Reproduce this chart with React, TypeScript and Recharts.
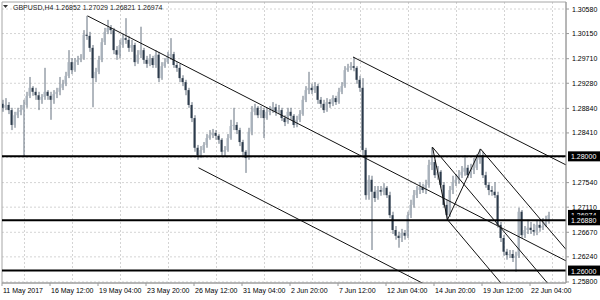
import React from "react";
import {
  ComposedChart,
  Bar,
  XAxis,
  YAxis,
  CartesianGrid,
  ReferenceLine,
  ReferenceArea,
} from "recharts";

const FONT = "'Liberation Sans', Arial, sans-serif";

const symbol = "GBPUSD,H4";
const lastOhlc = ["1.26852", "1.27029", "1.26821", "1.26974"];

// H4 bars, 11 May 2017 20:00 .. 23 Jun 2017
const timeLabels = [
  "11 May 2017", "16 May 12:00", "19 May 04:00", "23 May 20:00",
  "26 May 12:00", "31 May 04:00", "2 Jun 20:00", "7 Jun 12:00",
  "12 Jun 04:00", "14 Jun 20:00", "19 Jun 12:00", "22 Jun 04:00",
];
const labelBars = [0, 16, 32, 48, 64, 80, 96, 112, 128, 144, 160, 176];
const gridBars = [7, 23, 39, 55, 71, 87, 103, 119, 135, 151, 167, 183];

const firstOpen = 1.2892;
const closes = [
  1.2885, 1.2890, 1.2881, 1.2855, 1.2872, 1.2878, 1.2881, 1.2890, 1.2906, 1.2920,
  1.2913, 1.2907, 1.2899, 1.2904, 1.2913, 1.2906, 1.2899, 1.2909, 1.2913, 1.2920,
  1.2927, 1.2941, 1.2965, 1.2951, 1.2965, 1.2969, 1.2972, 1.3013, 1.3011, 1.2990,
  1.2937, 1.2948, 1.2969, 1.3000, 1.3018, 1.3025, 1.3021, 1.2986, 1.2978, 1.2995,
  1.3007, 1.3004, 1.2990, 1.2995, 1.2965, 1.2978, 1.2986, 1.2969, 1.2962, 1.2972,
  1.2960, 1.2978, 1.2937, 1.2958, 1.2965, 1.2976, 1.2979, 1.2960, 1.2955, 1.2937,
  1.2930, 1.2916, 1.2890, 1.2867, 1.2815, 1.2802, 1.2811, 1.2820, 1.2832, 1.2837,
  1.2841, 1.2836, 1.2829, 1.2808, 1.2811, 1.2832, 1.2853, 1.2855, 1.2846, 1.2825,
  1.2808, 1.2797, 1.2843, 1.2878, 1.2885, 1.2872, 1.2881, 1.2867, 1.2878, 1.2881,
  1.2886, 1.2878, 1.2881, 1.2867, 1.2860, 1.2878, 1.2871, 1.2855, 1.2864, 1.2874,
  1.2899, 1.2916, 1.2920, 1.2916, 1.2923, 1.2899, 1.2892, 1.2881, 1.2895, 1.2892,
  1.2902, 1.2895, 1.2913, 1.2923, 1.2951, 1.2955, 1.2958, 1.2955, 1.2934, 1.2920,
  1.2811, 1.2732, 1.2759, 1.2738, 1.2727, 1.2741, 1.2738, 1.2745, 1.2732, 1.2697,
  1.2671, 1.2661, 1.2657, 1.2666, 1.2661, 1.2697, 1.2715, 1.2732, 1.2741, 1.2746,
  1.2741, 1.2750, 1.2785, 1.2790, 1.2767, 1.2773, 1.2750, 1.2715, 1.2697, 1.2741,
  1.2755, 1.2759, 1.2767, 1.2773, 1.2780, 1.2767, 1.2776, 1.2780, 1.2794, 1.2802,
  1.2767, 1.2750, 1.2741, 1.2738, 1.2732, 1.2680, 1.2657, 1.2633, 1.2627, 1.2629,
  1.2622, 1.2626, 1.2703, 1.2662, 1.2671, 1.2675, 1.2671, 1.2668, 1.2680, 1.2675,
  1.2678, 1.26852, 1.26974,
];
const highs = [
  1.2899, 1.2902, 1.2895, 1.2885, 1.2878, 1.2885, 1.2890, 1.2899, 1.2913, 1.2939,
  1.2923, 1.2920, 1.2913, 1.2909, 1.2955, 1.2916, 1.2913, 1.2916, 1.2920, 1.2939,
  1.2934, 1.2948, 1.2986, 1.2972, 1.2972, 1.2976, 1.2979, 1.3021, 1.3046, 1.3018,
  1.2995, 1.2955, 1.2976, 1.3007, 1.3025, 1.3039, 1.3030, 1.3025, 1.2993, 1.3004,
  1.3014, 1.3042, 1.3011, 1.3004, 1.2999, 1.2986, 1.3027, 1.2990, 1.2976, 1.2979,
  1.2976, 1.2986, 1.2983, 1.2965, 1.2972, 1.2983, 1.3007, 1.2983, 1.2965, 1.2962,
  1.2942, 1.2934, 1.2920, 1.2895, 1.2872, 1.2820, 1.2818, 1.2825, 1.2839, 1.2846,
  1.2848, 1.2846, 1.2839, 1.2832, 1.2818, 1.2839, 1.2864, 1.2885, 1.2860, 1.2850,
  1.2829, 1.2811, 1.2850, 1.2888, 1.2892, 1.2888, 1.2888, 1.2885, 1.2885, 1.2888,
  1.2895, 1.2892, 1.2890, 1.2885, 1.2872, 1.2885, 1.2885, 1.2874, 1.2871, 1.2881,
  1.2906, 1.2923, 1.2948, 1.2927, 1.2930, 1.2927, 1.2904, 1.2899, 1.2902, 1.2900,
  1.2907, 1.2906, 1.2920, 1.2930, 1.2958, 1.2962, 1.2965, 1.2974, 1.2958, 1.2941,
  1.2937, 1.2815, 1.2767, 1.2766, 1.2748, 1.2748, 1.2748, 1.2753, 1.2748, 1.2738,
  1.2703, 1.2678, 1.2668, 1.2673, 1.2671, 1.2703, 1.2724, 1.2741, 1.2748, 1.2755,
  1.2752, 1.2759, 1.2794, 1.2816, 1.2794, 1.2783, 1.2776, 1.2755, 1.2724, 1.2748,
  1.2766, 1.2769, 1.2776, 1.2783, 1.2802, 1.2785, 1.2787, 1.2797, 1.2804, 1.2813,
  1.2808, 1.2773, 1.2755, 1.2748, 1.2755, 1.2738, 1.2685, 1.2662, 1.2638, 1.2636,
  1.2636, 1.2633, 1.2710, 1.2706, 1.2678, 1.2689, 1.2685, 1.2682, 1.2689, 1.2689,
  1.2692, 1.2696, 1.27029,
];
const lows = [
  1.2878, 1.2881, 1.2874, 1.2846, 1.2850, 1.2867, 1.2872, 1.2800, 1.2885, 1.2902,
  1.2906, 1.2899, 1.2881, 1.2892, 1.2899, 1.2899, 1.2864, 1.2892, 1.2902, 1.2907,
  1.2916, 1.2923, 1.2937, 1.2944, 1.2948, 1.2960, 1.2965, 1.2969, 1.3004, 1.2983,
  1.2886, 1.2930, 1.2944, 1.2965, 1.2995, 1.3014, 1.3014, 1.2979, 1.2969, 1.2972,
  1.2990, 1.2997, 1.2983, 1.2983, 1.2958, 1.2962, 1.2972, 1.2962, 1.2955, 1.2958,
  1.2955, 1.2955, 1.2930, 1.2934, 1.2955, 1.2962, 1.2969, 1.2955, 1.2948, 1.2930,
  1.2923, 1.2907, 1.2885, 1.2860, 1.2808, 1.2794, 1.2797, 1.2806, 1.2815, 1.2829,
  1.2832, 1.2829, 1.2822, 1.2801, 1.2799, 1.2808, 1.2829, 1.2846, 1.2839, 1.2818,
  1.2801, 1.2771, 1.2794, 1.2837, 1.2872, 1.2867, 1.2867, 1.2832, 1.2864, 1.2872,
  1.2876, 1.2871, 1.2874, 1.2862, 1.2853, 1.2857, 1.2864, 1.2850, 1.2851, 1.2860,
  1.2871, 1.2895, 1.2909, 1.2909, 1.2911, 1.2892, 1.2885, 1.2876, 1.2878, 1.2885,
  1.2888, 1.2890, 1.2892, 1.2909, 1.2920, 1.2948, 1.2951, 1.2949, 1.2927, 1.2913,
  1.2802, 1.2724, 1.2724, 1.2636, 1.2720, 1.2724, 1.2731, 1.2732, 1.2727, 1.2692,
  1.2664, 1.2654, 1.2640, 1.2650, 1.2654, 1.2657, 1.2692, 1.2710, 1.2727, 1.2734,
  1.2736, 1.2734, 1.2745, 1.2776, 1.2762, 1.2759, 1.2745, 1.2710, 1.2689, 1.2694,
  1.2734, 1.2748, 1.2752, 1.2762, 1.2766, 1.2762, 1.2762, 1.2769, 1.2776, 1.2787,
  1.2762, 1.2745, 1.2732, 1.2731, 1.2727, 1.2675, 1.2650, 1.2626, 1.2619, 1.2622,
  1.2615, 1.2598, 1.2622, 1.2657, 1.2657, 1.2664, 1.2664, 1.2661, 1.2662, 1.2668,
  1.2671, 1.2676, 1.26821,
];

const priceTicks = [1.3058, 1.3015, 1.2971, 1.2928, 1.2884, 1.2841, 1.2754, 1.2711, 1.2667, 1.2624, 1.258];
const gridPrices = [1.3058, 1.3015, 1.2971, 1.2928, 1.2884, 1.2841, 1.2798, 1.2754, 1.2711, 1.2667, 1.2624, 1.258];
const levels = [1.28, 1.2688, 1.26];
const lastPrice = 1.26974;

// trend lines / pitchfork, [bar, price] pairs
const trendLines: [number, number][][] = [
  [[28, 1.3046], [187.5, 1.2617]],
  [[65, 1.278], [140, 1.2577]],
  [[116.5, 1.2974], [187.5, 1.2785]],
  [[143, 1.2816], [148, 1.2689]],
  [[148, 1.2689], [159, 1.2813]],
  [[143, 1.2816], [181.5, 1.2577]],
  [[148, 1.2689], [166, 1.2577]],
  [[159, 1.2813], [187.5, 1.2637]],
];

const Y_MIN = 1.25782;
const Y_MAX = 1.30703;

const data = closes.map((close, i) => ({
  i,
  open: i === 0 ? firstOpen : closes[i - 1],
  close,
  high: highs[i],
  low: lows[i],
}));

function Candle(props: any) {
  const { x, y, width, height, payload } = props;
  if (!payload) return null;
  const { open, close, high, low } = payload;
  const cx = x + width / 2;
  const range = high - low || 1e-9;
  const yOf = (p: number) => y + ((high - p) / range) * height;
  const top = yOf(Math.max(open, close));
  const bot = yOf(Math.min(open, close));
  const bull = close >= open;
  return (
    <g>
      <line x1={cx} x2={cx} y1={y} y2={y + height} stroke="#64717e" strokeWidth={1} />
      <rect
        x={cx - 1.5}
        y={top}
        width={2}
        height={Math.max(bot - top, 1)}
        fill={bull ? "#a8b1bb" : "#2c3b4b"}
      />
    </g>
  );
}

function PriceTag(props: any) {
  const { viewBox, text } = props;
  if (!viewBox) return null;
  const x = viewBox.x + viewBox.width + 2;
  const y = viewBox.y;
  return (
    <g>
      <rect x={x} y={y - 5} width={34} height={10} fill="#000" />
      <text x={x + 3} y={y + 3} fill="#fff" fontSize={7} fontFamily={FONT}>
        {text}
      </text>
    </g>
  );
}

function XTick(props: any) {
  const { x, y, payload } = props;
  const k = labelBars.indexOf(Math.round(payload.value + 0.5));
  return (
    <text x={x + 1} y={y + 5} fontSize={7} fontFamily={FONT} fill="#000" textAnchor="start">
      {timeLabels[k]}
    </text>
  );
}

function YTick(props: any) {
  const { x, y, payload } = props;
  return (
    <text x={x} y={y + 2.5} fontSize={7} fontFamily={FONT} fill="#000" textAnchor="start">
      {Number(payload.value).toFixed(5)}
    </text>
  );
}

export default function App() {
  return (
    <div style={{ position: "absolute", left: 0, top: 0, width: 600, height: 300, background: "#fff" }}>
      <ComposedChart
        width={600}
        height={300}
        data={data}
        margin={{ top: 2, right: 0, bottom: 0, left: 2 }}
      >
        <CartesianGrid
          stroke="#d4d4d4"
          strokeDasharray="2 2"
          horizontalValues={gridPrices}
          verticalValues={gridBars}
        />
        <XAxis
          dataKey="i"
          type="number"
          domain={[-0.5, 187.5]}
          allowDataOverflow
          ticks={labelBars.map((b) => b - 0.5)}
          interval={0}
          tick={<XTick />}
          tickSize={3}
          tickMargin={2}
          height={17}
          stroke="#9a9a9a"
        />
        <YAxis
          orientation="right"
          domain={[Y_MIN, Y_MAX]}
          allowDataOverflow
          ticks={priceTicks}
          interval={0}
          tick={<YTick />}
          tickSize={3}
          tickMargin={3}
          width={34}
          stroke="#9a9a9a"
        />
        <ReferenceArea
          x1={-0.5}
          x2={187.5}
          y1={Y_MIN}
          y2={Y_MAX}
          fill="none"
          fillOpacity={0}
          stroke="#a6a6a6"
          ifOverflow="visible"
        />
        <Bar
          dataKey={(d: any) => [d.low, d.high]}
          barSize={2}
          shape={<Candle />}
          isAnimationActive={false}
        />
        {trendLines.map((seg, k) => (
          <ReferenceLine
            key={"t" + k}
            segment={seg.map(([x, y]) => ({ x, y }))}
            stroke="#111"
            strokeWidth={1}
            ifOverflow="hidden"
          />
        ))}
        <ReferenceLine
          y={lastPrice}
          stroke="none"
          label={<PriceTag text={lastPrice.toFixed(5)} />}
        />
        {levels.map((lv) => (
          <ReferenceLine
            key={"l" + lv}
            y={lv}
            stroke="#000"
            strokeWidth={2}
            label={<PriceTag text={lv.toFixed(5)} />}
          />
        ))}
      </ComposedChart>
      <svg
        width={200}
        height={14}
        style={{ position: "absolute", left: 0, top: 0, pointerEvents: "none" }}
      >
        <path d="M3 5 L8 5 L5.5 8 Z" fill="#333" />
        <text x={13} y={10} fontSize={7} fontFamily={FONT} fill="#222">
          {symbol + "  " + lastOhlc.join(" ")}
        </text>
      </svg>
    </div>
  );
}
